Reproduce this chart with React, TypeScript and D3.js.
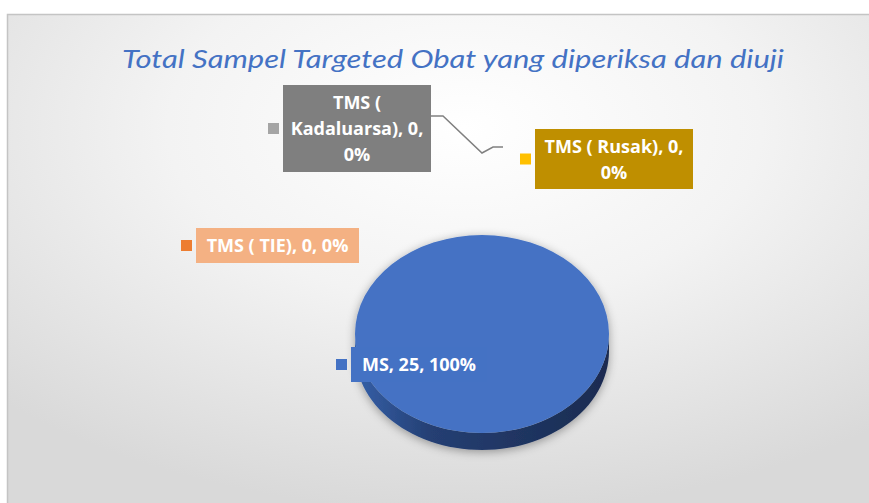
import React from 'react';
import * as d3 from 'd3';

const categories = ['MS', 'TMS ( TIE)', 'TMS ( Kadaluarsa)', 'TMS ( Rusak)'];
const values = [25, 0, 0, 0];
const sliceColors = ['#4472C4', '#ED7D31', '#A5A5A5', '#FFC000'];
const labelFills = ['#4472C4', '#F4B183', '#7F7F7F', '#BF8F00'];
const chartTitle = 'Total Sampel Targeted Obat yang diperiksa dan diuji';

const W = 869;
const H = 503;
const CX = 482;
const CY = 334;
const RX = 127;
const RY = 99;
const DEPTH = 17;
const LABEL_FAMILY = "'Open Sans'";
const LABEL_SIZE = 18;
const LABEL_FONT = `bold ${LABEL_SIZE}px 'Open Sans'`;

// label box layout (position, max text width)
const labelLayout = [
  { x: 351, y: 347, w: 136, h: 35, maxW: 220 },
  { x: 196, y: 228, w: 163, h: 35, maxW: 220 },
  { x: 283, y: 85, w: 148, h: 87, maxW: 142 },
  { x: 535, y: 129, w: 158, h: 60, maxW: 154 },
];

let ctx: CanvasRenderingContext2D | null = null;
function measure(s: string): number {
  if (!ctx) ctx = document.createElement('canvas').getContext('2d');
  if (!ctx) return s.length * 10;
  ctx.font = LABEL_FONT;
  return ctx.measureText(s).width;
}
function wrap(text: string, maxW: number): string[] {
  const words = text.split(' ');
  const lines: string[] = [];
  let cur = '';
  for (const w of words) {
    const t = cur ? cur + ' ' + w : w;
    if (cur && measure(t) > maxW) {
      lines.push(cur);
      cur = w;
    } else cur = t;
  }
  if (cur) lines.push(cur);
  return lines;
}

export default function App() {
  const total = d3.sum(values);
  const pie = d3.pie<number>().sort(null).value((d) => d)(values);
  const k = RY / RX;
  const arcGen = d3.arc<d3.PieArcDatum<number>>().innerRadius(0).outerRadius(RX);

  const sides = pie
    .map((p, i) => {
      const a0 = Math.max(p.startAngle, Math.PI / 2);
      const a1 = Math.min(p.endAngle, (3 * Math.PI) / 2);
      if (a1 <= a0) return null;
      const pts = d3.range(0, 61).map((j) => a0 + ((a1 - a0) * j) / 60);
      const top = pts.map((a) => [CX + RX * Math.sin(a), CY - RY * Math.cos(a)]);
      const bot = top.map(([x, y]) => [x, y + DEPTH]).reverse();
      const d = 'M' + top.concat(bot).map((p2) => p2.join(',')).join('L') + 'Z';
      return { d, i };
    })
    .filter(Boolean) as { d: string; i: number }[];

  const leader = d3.line()([
    [431, 116],
    [443, 116],
    [482, 153],
    [493, 147],
    [503, 147],
  ]);

  return (
    <svg width={W} height={H} style={{ position: 'absolute', left: 0, top: 0 }}>
      <defs>
        <radialGradient id="bg" cx="52%" cy="22%" r="75%">
          <stop offset="0%" stopColor="#ffffff" />
          <stop offset="45%" stopColor="#f3f3f3" />
          <stop offset="100%" stopColor="#d9d9d9" />
        </radialGradient>
        <linearGradient id="side" x1="0" x2="1" y1="0" y2="0">
          <stop offset="0%" stopColor="#3560a8" />
          <stop offset="30%" stopColor="#253f73" />
          <stop offset="100%" stopColor="#1a2b50" />
        </linearGradient>
        <filter id="shadow" x="-20%" y="-20%" width="140%" height="140%">
          <feGaussianBlur in="SourceAlpha" stdDeviation="5" />
          <feOffset dx="0" dy="2" result="b" />
          <feFlood floodColor="#000" floodOpacity="0.35" />
          <feComposite in2="b" operator="in" />
          <feMerge>
            <feMergeNode />
            <feMergeNode in="SourceGraphic" />
          </feMerge>
        </filter>
      </defs>
      <rect x={0} y={0} width={W} height={H} fill="#ffffff" />
      <rect x={7.5} y={14.5} width={W + 10} height={H + 10} fill="url(#bg)" stroke="#c4c4c4" strokeWidth={1.5} />

      <text
        x={453}
        y={68}
        textAnchor="middle"
        fill="#4472C4"
        fontFamily="'Segoe Print','Comic Sans MS',Lato"
        fontStyle="italic"
        fontSize={25}
        textLength={662}
        lengthAdjust="spacingAndGlyphs"
      >
        {chartTitle}
      </text>

      <g filter="url(#shadow)">
        {sides.map((s) => (
          <path key={'s' + s.i} d={s.d} fill="url(#side)" />
        ))}
        {pie.map((p, i) =>
          p.endAngle > p.startAngle ? (
            <path
              key={'t' + i}
              d={arcGen(p) || ''}
              transform={`translate(${CX},${CY}) scale(1,${k})`}
              fill={sliceColors[i]}
            />
          ) : null
        )}
      </g>

      <path d={leader || ''} fill="none" stroke="#808080" strokeWidth={1.5} />

      {categories.map((c, i) => {
        const L = labelLayout[i];
        const pct = Math.round((values[i] / total) * 100);
        const lines = wrap(`${c}, ${values[i]}, ${pct}%`, L.maxW);
        const lh = 26;
        const firstBase = L.y + L.h / 2 - ((lines.length - 1) * lh) / 2 + 6.5;
        return (
          <g key={'l' + i}>
            <rect x={L.x - 15} y={L.y + L.h / 2 - 5.5} width={11} height={11} fill={sliceColors[i]} />
            <rect x={L.x} y={L.y} width={L.w} height={L.h} fill={labelFills[i]} />
            {lines.map((ln, j) => (
              <text
                key={j}
                x={L.x + L.w / 2}
                y={firstBase + j * lh}
                textAnchor="middle"
                fill="#ffffff"
                fontFamily={LABEL_FAMILY}
                fontWeight="bold"
                fontSize={LABEL_SIZE}
              >
                {ln}
              </text>
            ))}
          </g>
        );
      })}
    </svg>
  );
}
